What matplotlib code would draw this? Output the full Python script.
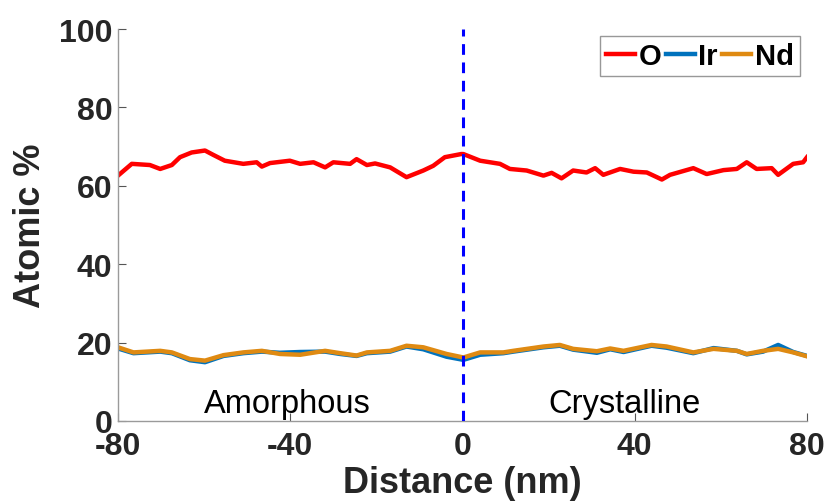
import matplotlib
matplotlib.use("Agg")
import matplotlib.pyplot as plt

plt.rcParams['font.family'] = ['Liberation Sans', 'DejaVu Sans']

# Data
o_x = [-80, -76.8, -72.6, -70.2, -67.5, -65.6, -62.9, -59.8, -57.9, -55.2, -50.9, -47.8,
       -46.6, -44.7, -40.1, -37.7, -34.6, -31.9, -30.0, -26.1, -24.6, -22.2, -20.3, -16.8,
       -13.0, -9.1, -6.8, -4.1, -0.3, 0.2, 4.1, 8.7, 11.0, 14.9, 18.8, 20.7, 23.0, 25.7,
       28.8, 30.8, 32.7, 36.6, 39.7, 42.8, 46.3, 48.2, 53.6, 56.7, 60.6, 63.7, 66.0, 68.3,
       71.8, 73.3, 76.8, 79.1, 80]
o_y = [62.6, 65.6, 65.3, 64.3, 65.3, 67.3, 68.5, 69.0, 67.9, 66.4, 65.6, 66.0,
       64.9, 65.8, 66.4, 65.6, 66.0, 64.7, 66.0, 65.6, 66.8, 65.3, 65.7, 64.7,
       62.2, 63.9, 65.1, 67.3, 68.1, 68.1, 66.4, 65.6, 64.3, 63.9, 62.6, 63.3, 61.9, 63.9,
       63.4, 64.5, 62.8, 64.3, 63.6, 63.4, 61.6, 62.8, 64.5, 63.0, 64.0, 64.3, 66.0, 64.3,
       64.5, 62.8, 65.6, 66.0, 67.3]

nd_x = [-80, -76.4, -70.2, -67.5, -63.3, -59.8, -55.5, -50.9, -46.6, -42.4, -37.7, -31.9,
        -28.4, -24.6, -22.2, -16.8, -13.0, -9.1, -3.7, 0.2, 4.1, 9.5, 11.8, 18.8, 22.6,
        25.7, 31.2, 34.3, 37.4, 43.9, 47.4, 53.6, 58.3, 63.7, 66.0, 69.8, 73.3, 76.8, 80]
nd_y = [18.8, 17.5, 17.9, 17.5, 15.8, 15.4, 16.8, 17.5, 17.9, 17.1, 16.9, 17.9,
        17.3, 16.7, 17.5, 17.9, 19.2, 18.8, 17.1, 16.2, 17.5, 17.5, 17.9, 19.0, 19.4,
        18.4, 17.8, 18.5, 17.9, 19.4, 19.0, 17.5, 18.4, 17.9, 17.1, 17.9, 18.4, 17.5, 16.5]
ir_x = nd_x
ir_y = [18.5, 17.3, 17.7, 17.3, 15.5, 15.0, 16.6, 17.3, 17.7, 17.4, 17.6, 17.7,
        17.1, 16.6, 17.3, 17.7, 19.0, 18.3, 16.4, 15.6, 16.9, 17.3, 17.7, 18.8, 19.2,
        18.2, 17.4, 18.3, 17.6, 19.2, 18.7, 17.3, 18.6, 17.9, 17.0, 17.7, 19.4, 17.6, 16.6]

x_ticks = [-80, -40, 0, 40, 80]
y_ticks = [0, 20, 40, 60, 80, 100]
region_labels = ["Amorphous", "Crystalline"]
region_x = [-40.6, 37.7]

fig = plt.figure(figsize=(8.26, 5.02), dpi=100)
ax = fig.add_axes([118/826, 80/502, (807-118)/826, (422-30)/502])

ax.plot(o_x, o_y, color=(1, 0, 0), lw=3.2, label="O")
ax.plot(ir_x, ir_y, color="#0072BD", lw=3.2, label="Ir")
ax.plot(nd_x, nd_y, color="#DF8A12", lw=3.2, label="Nd")
ax.plot([0, 0], [0, 100], color=(0, 0, 1), lw=2.2, ls=(0, (3.5, 2.5)), zorder=5)

for lab, xx in zip(region_labels, region_x):
    ax.text(xx, 2.4, lab, ha="center", va="baseline", fontsize=23.5, color="black")

ax.set_xlim(-80, 80)
ax.set_ylim(0, 100)
ax.set_xticks(x_ticks)
ax.set_yticks(y_ticks)
ax.set_xticklabels([str(v) for v in x_ticks])
ax.set_yticklabels([str(v) for v in y_ticks])
for s in ["top", "right"]:
    ax.spines[s].set_visible(False)
for s in ["left", "bottom"]:
    ax.spines[s].set_color("#9a9a9a")
    ax.spines[s].set_linewidth(1.0)
ax.tick_params(direction="in", length=6, width=0.8, color="#555555",
               labelsize=23, labelcolor="#262626", pad=4)
ax.tick_params(axis="x", pad=7)
for t in ax.get_xticklabels() + ax.get_yticklabels():
    t.set_fontweight("bold")

ax.set_xlabel("Distance (nm)", fontsize=26, fontweight="bold", color="#262626", labelpad=3)
ax.set_ylabel("Atomic %", fontsize=26, fontweight="bold", color="#262626", labelpad=8)

leg = ax.legend(loc="upper right", ncol=3, prop={"weight": "bold", "size": 21},
                frameon=True, fancybox=False, handlelength=1.0, handletextpad=0.12,
                columnspacing=0.15, borderpad=0.2, borderaxespad=0.25)
leg.get_frame().set_edgecolor("#7f7f7f")
leg.get_frame().set_linewidth(1.0)

fig.savefig("out.png", dpi=100)
